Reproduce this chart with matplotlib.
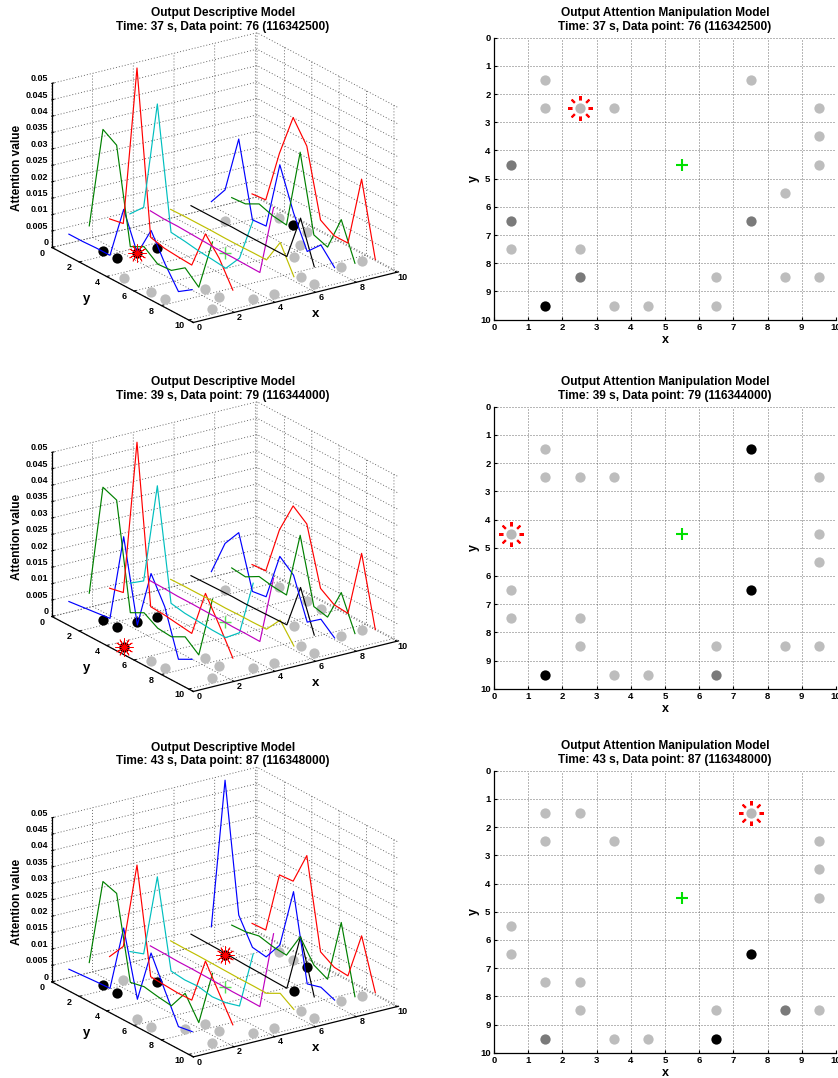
import matplotlib
matplotlib.use("Agg")
import matplotlib.pyplot as plt

# attention values per line (x = 0.5 ... 9.5), each with y = 0.5 ... 9.5, in 1/1000
desc_37 = [
    [4.4, 4.4, 4.6, 4.6, 20.8, 9.6, 18.8, 11.0, 4.6, 7.4],
    [5.4, 37.0, 34.4, 5.7, 7.9, 4.8, 5.1, 8.1, 4.4, 20.4],
    [6.0, 6.8, 56.4, 7.0, 5.9, 5.5, 5.2, 16.9, 11.7, 4.2],
    [6.0, 10.2, 43.9, 7.0, 6.5, 5.8, 5.4, 4.9, 10.2, 24.0],
    [5.4, 5.1, 5.1, 4.9, 4.7, 4.5, 4.5, 4.4, 4.3, 26.3],
    [4.3, 4.4, 4.4, 4.4, 4.3, 4.3, 4.4, 4.4, 11.9, 3.7],
    [3.9, 3.9, 3.9, 4.0, 3.9, 3.9, 3.9, 3.9, 17.8, 5.2],
    [3.6, 9.4, 27.1, 4.7, 5.0, 25.9, 13.5, 3.9, 8.1, 3.4],
    [3.3, 3.6, 5.8, 4.4, 3.8, 28.2, 5.2, 3.7, 14.3, 3.2],
    [2.9, 3.3, 19.7, 32.8, 26.3, 6.0, 3.4, 3.4, 25.1, 2.8],
]
desc_39 = [
    [4.9, 5.4, 5.9, 6.4, 33.5, 8.8, 26.7, 18.8, 5.0, 7.2],
    [5.9, 40.4, 38.7, 6.6, 8.8, 6.3, 5.9, 8.1, 4.8, 24.0],
    [5.9, 6.8, 54.8, 6.9, 6.6, 6.0, 5.4, 19.8, 12.4, 4.5],
    [5.9, 8.8, 40.0, 6.4, 5.6, 5.3, 4.9, 4.8, 8.5, 25.8],
    [5.1, 5.0, 4.8, 4.8, 4.7, 4.6, 4.4, 4.4, 4.3, 25.8],
    [4.0, 4.1, 4.1, 4.2, 4.1, 4.2, 4.2, 4.3, 9.3, 3.6],
    [3.6, 3.7, 3.8, 3.9, 3.8, 3.9, 4.0, 4.1, 17.7, 5.4],
    [3.3, 14.1, 19.6, 3.9, 4.5, 19.0, 15.5, 3.4, 6.5, 3.0],
    [2.9, 2.4, 4.7, 3.9, 3.5, 23.9, 4.4, 3.4, 13.1, 2.8],
    [2.4, 2.7, 17.4, 26.9, 23.6, 6.2, 3.4, 3.0, 23.5, 2.5],
]
desc_43 = [
    [4.2, 4.5, 4.8, 5.0, 25.6, 6.1, 22.4, 13.3, 4.4, 5.1],
    [4.7, 31.6, 30.2, 5.3, 6.2, 5.4, 4.8, 10.8, 4.1, 21.3],
    [5.0, 10.3, 37.3, 5.5, 5.2, 4.9, 5.0, 19.1, 11.5, 4.1],
    [5.0, 6.5, 32.2, 5.7, 5.2, 5.4, 4.5, 4.9, 6.1, 24.2],
    [5.2, 5.1, 4.9, 4.9, 4.8, 4.7, 4.5, 4.5, 4.4, 28.8],
    [5.2, 5.1, 5.1, 5.0, 4.9, 4.8, 4.8, 4.7, 6.9, 4.2],
    [5.7, 5.6, 5.5, 5.3, 5.1, 5.0, 4.8, 4.7, 22.7, 6.5],
    [6.4, 53.3, 14.4, 6.8, 6.1, 11.9, 30.4, 4.5, 5.7, 4.0],
    [5.4, 5.6, 6.5, 5.5, 5.1, 12.9, 6.5, 4.4, 23.9, 3.5],
    [4.4, 4.6, 23.6, 23.9, 33.9, 6.8, 4.3, 3.9, 18.3, 3.2],
]

line_x = [0.5, 1.5, 2.5, 3.5, 4.5, 5.5, 6.5, 7.5, 8.5, 9.5]
line_y = [0.5, 1.5, 2.5, 3.5, 4.5, 5.5, 6.5, 7.5, 8.5, 9.5]
line_colors = ['b', 'g', 'r', 'c', 'm', 'y', 'k', 'b', 'g', 'r']

# gaze locations: x, y, shade in manipulation model
pts_37_x = [1.5, 7.5, 1.5, 3.5, 9.5, 9.5, 0.5, 9.5, 8.5, 0.5, 7.5, 0.5, 2.5, 2.5, 6.5, 8.5, 9.5, 1.5, 3.5, 4.5, 6.5]
pts_37_y = [1.5, 1.5, 2.5, 2.5, 2.5, 3.5, 4.5, 4.5, 5.5, 6.5, 6.5, 7.5, 7.5, 8.5, 8.5, 8.5, 8.5, 9.5, 9.5, 9.5, 9.5]
pts_37_shade = ['l', 'l', 'l', 'l', 'l', 'l', 'd', 'l', 'l', 'd', 'd', 'l', 'l', 'd', 'l', 'l', 'l', 'k', 'l', 'l', 'l']
pts_37_black = [(1.5, 1.5), (1.5, 2.5), (3.5, 2.5), (9.5, 3.5)]
target_37 = (2.5, 2.5)

pts_39_x = [1.5, 7.5, 1.5, 2.5, 3.5, 9.5, 9.5, 9.5, 0.5, 7.5, 0.5, 2.5, 2.5, 6.5, 8.5, 9.5, 1.5, 3.5, 4.5, 6.5]
pts_39_y = [1.5, 1.5, 2.5, 2.5, 2.5, 2.5, 4.5, 5.5, 6.5, 6.5, 7.5, 7.5, 8.5, 8.5, 8.5, 8.5, 9.5, 9.5, 9.5, 9.5]
pts_39_shade = ['l', 'k', 'l', 'l', 'l', 'l', 'l', 'l', 'l', 'k', 'l', 'l', 'l', 'l', 'l', 'l', 'k', 'l', 'l', 'd']
pts_39_black = [(1.5, 1.5), (1.5, 2.5), (2.5, 2.5), (3.5, 2.5)]
target_39 = (0.5, 4.5)

pts_43_x = [1.5, 2.5, 1.5, 3.5, 9.5, 9.5, 9.5, 0.5, 0.5, 7.5, 1.5, 2.5, 2.5, 6.5, 8.5, 9.5, 1.5, 3.5, 4.5, 6.5]
pts_43_y = [1.5, 1.5, 2.5, 2.5, 2.5, 3.5, 4.5, 5.5, 6.5, 6.5, 7.5, 7.5, 8.5, 8.5, 8.5, 8.5, 9.5, 9.5, 9.5, 9.5]
pts_43_shade = ['l', 'l', 'l', 'l', 'l', 'l', 'l', 'l', 'l', 'k', 'l', 'l', 'l', 'l', 'd', 'l', 'd', 'l', 'l', 'k']
pts_43_black = [(1.5, 1.5), (1.5, 2.5), (3.5, 2.5), (9.5, 4.5), (7.5, 6.5)]
target_43 = (7.5, 1.5)

fix_x, fix_y = 5.5, 4.5
captions = ["Time: 37 s, Data point: 76 (116342500)",
            "Time: 39 s, Data point: 79 (116344000)",
            "Time: 43 s, Data point: 87 (116348000)"]
z_ticks = [0, 0.005, 0.01, 0.015, 0.02, 0.025, 0.03, 0.035, 0.04, 0.045, 0.05]
z_labels = ['0', '0.005', '0.01', '0.015', '0.02', '0.025', '0.03', '0.035', '0.04', '0.045', '0.05']
shades = {'l': '#bdbdbd', 'd': '#7a7a7a', 'k': 'k'}

plt.rcParams['font.family'] = ['Liberation Sans', 'DejaVu Sans']
plt.rcParams['font.weight'] = 'bold'
plt.rcParams['axes.labelweight'] = 'bold'
plt.rcParams['grid.linestyle'] = (0, (1.2, 2.4))
plt.rcParams['grid.linewidth'] = 0.6
plt.rcParams['grid.color'] = '#555555'

W, H = 838, 1078
fig = plt.figure(figsize=(W / 100, H / 100), dpi=100)


def px_box(left, top, right, bottom):
    return [left / W, 1 - bottom / H, (right - left) / W, (bottom - top) / H]


def draw_descriptive(dy, zvals, xs, ys, black, target, caption):
    ax = fig.add_axes(px_box(28.5, -8.7 + dy, 411.5, 374.3 + dy), projection='3d',
                      computed_zorder=False)
    ax.patch.set_alpha(0)
    ax.set_proj_type('ortho')
    ax.view_init(elev=21.2, azim=-124.3)
    ax.set_box_aspect((248.3, 251, 176))
    ax.set_xlim(0, 10.08)
    ax.set_ylim(10.33, 0)
    ax.set_zlim(0, 0.05)
    ax.set_xticks([0, 2, 4, 6, 8, 10])
    ax.set_yticks([0, 2, 4, 6, 8, 10])
    ax.set_zticks(z_ticks)
    ax.set_zticklabels(z_labels, ha='right', va='bottom')
    ax.set_xticklabels(['0', '2', '4', '6', '8', '10'], va='bottom')
    ax.set_yticklabels(['0', '2', '4', '6', '8', '10'], va='bottom')
    ax.tick_params(axis='x', labelsize=6.5, pad=-2.2)
    ax.tick_params(axis='y', labelsize=6.5, pad=-1.2)
    ax.tick_params(axis='z', labelsize=6.5, pad=-6.5)
    for axis in (ax.xaxis, ax.yaxis, ax.zaxis):
        axis.set_pane_color((1, 1, 1, 0))
        axis.pane.set_edgecolor('none')
        axis.line.set_linewidth(0.9)
        axis.line.set_color('k')
        axis._axinfo['tick']['inward_factor'] = 0.0
        axis._axinfo['tick']['outward_factor'] = 0.12

    for x, y in zip(xs, ys):
        if (x, y) not in black and (x, y) != target:
            ax.plot([x], [y], [0], 'o', color='#bdbdbd', ms=7.4, mew=0, zorder=2)
    ax.plot([fix_x], [fix_y], [0], '+', color='#55e055', ms=9, mew=1.0, zorder=2)
    for x, y in black:
        ax.plot([x], [y], [0], 'o', color='k', ms=7.4, mew=0, zorder=3)
    ax.plot([target[0]], [target[1]], [0], 'o', color='k', ms=7.4, mew=0, zorder=3)
    for i, col in enumerate(line_colors):
        ax.plot([line_x[i]] * 10, line_y, [v / 1000 for v in zvals[i]], color=col, lw=0.85, zorder=4)
    ax.plot([target[0]], [target[1]], [0], marker=(12, 2, 0), color='r', ms=13, mew=0.6, zorder=5)

    fig.text(223 / W, 1 - (20 + dy) / H, "Output Descriptive Model\n" + caption, ha='center',
             va='center', fontsize=8.55, linespacing=1.2)
    fig.text(17.5 / W, 1 - (168 + dy) / H, "Attention value", rotation=90, ha='center',
             va='center', fontsize=8.6)
    fig.text(87 / W, 1 - (299 + dy) / H, "y", ha='center', va='center', fontsize=9.5)
    fig.text(316 / W, 1 - (314 + dy) / H, "x", ha='center', va='center', fontsize=9.5)


def draw_manipulation(dy, xs, ys, shade, target, caption):
    ax = fig.add_axes(px_box(494, 37.7 + dy, 836, 319.7 + dy))
    ax.set_xlim(0, 10)
    ax.set_ylim(10, 0)
    ax.set_xticks(range(11))
    ax.set_yticks(range(11))
    ax.tick_params(labelsize=6.8, length=2.5, width=0.8, direction='in', pad=2.5)
    ax.grid(True)
    ax.set_axisbelow(True)
    ax.spines['top'].set_visible(False)
    ax.spines['right'].set_visible(False)
    ax.spines['left'].set_linewidth(0.9)
    ax.spines['bottom'].set_linewidth(0.9)
    ax.set_xlabel('x', fontsize=9, labelpad=1)
    ax.set_ylabel('y', fontsize=9, labelpad=0)
    for x, y, s in zip(xs, ys, shade):
        ax.plot(x, y, 'o', color=shades[s], ms=7.4, mew=0, clip_on=False)
    ax.plot(target[0], target[1], marker=(8, 2, 0), color='r', ms=18, mew=1.5, zorder=3)
    ax.plot(target[0], target[1], 'o', color='w', ms=11.5, mew=0, zorder=4)
    ax.plot(target[0], target[1], 'o', color='#b8b8b8', ms=7.4, mew=0, zorder=5)
    ax.plot(fix_x, fix_y, '+', color='#00e000', ms=9, mew=1.5, zorder=4)
    fig.text(665 / W, 1 - (20 + dy) / H, "Output Attention Manipulation Model\n" + caption,
             ha='center', va='center', fontsize=8.55, linespacing=1.2)


draw_descriptive(0, desc_37, pts_37_x + [2.5], pts_37_y + [2.5], pts_37_black, target_37, captions[0])
draw_descriptive(369, desc_39, pts_39_x, pts_39_y, pts_39_black, target_39, captions[1])
draw_descriptive(734.4, desc_43, pts_43_x, pts_43_y, pts_43_black, target_43, captions[2])
draw_manipulation(0, pts_37_x, pts_37_y, pts_37_shade, target_37, captions[0])
draw_manipulation(369, pts_39_x, pts_39_y, pts_39_shade, target_39, captions[1])
draw_manipulation(733, pts_43_x, pts_43_y, pts_43_shade, target_43, captions[2])

fig.savefig('out.png', dpi=100)
